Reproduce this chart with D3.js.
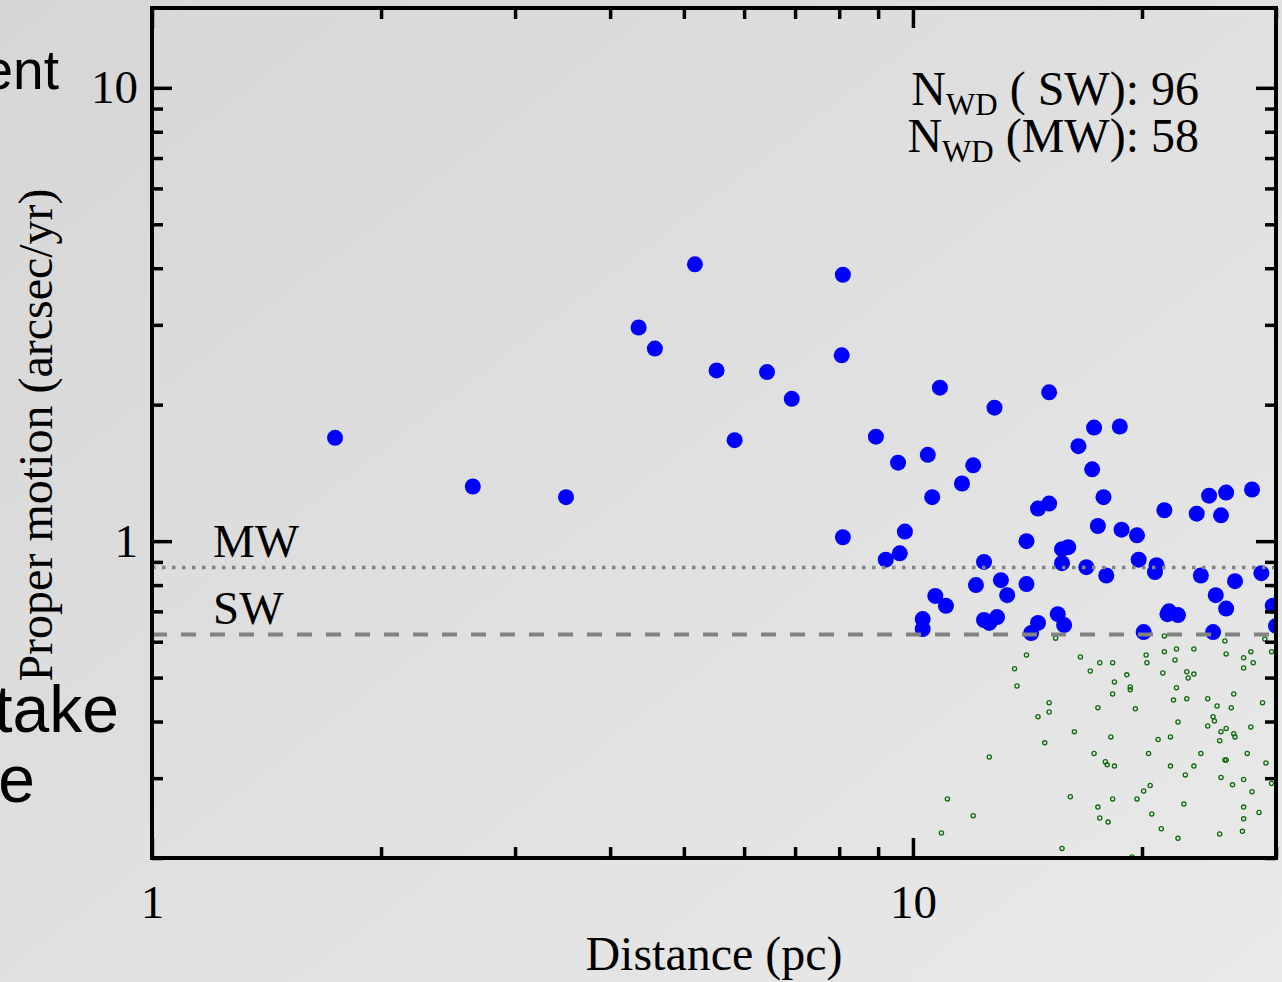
<!DOCTYPE html>
<html>
<head>
<meta charset="utf-8">
<script src="https://cdn.jsdelivr.net/npm/d3@7/dist/d3.min.js"></script>
<style>
  html, body { margin: 0; padding: 0; overflow: hidden; }
  svg { display: block; }
</style>
</head>
<body>
<script>
// ---------------- DATA ----------------
// White dwarfs above the proper-motion limit (blue filled)
const blueDist = [1.74, 2.64, 3.50, 4.36, 4.58, 5.17, 5.52, 5.83, 6.43, 6.93, 8.09, 8.06, 8.09,
  10.85, 15.1, 12.8, 8.94, 10.46, 9.56, 12.0, 11.6, 10.6, 15.1, 14.6, 9.76, 14.1, 9.61, 9.21,
  15.7, 16.0, 12.4, 15.7, 13.05, 12.1, 14.1, 10.7, 13.3, 11.05, 10.3, 10.3, 12.4, 12.6, 12.9,
  14.6, 14.3, 15.5, 15.8,
  17.3, 18.7, 16.5, 17.2, 17.8, 17.5, 18.8, 19.7, 21.4, 23.6, 24.5, 25.8, 25.4, 27.9,
  16.9, 17.95, 19.8, 20.9, 20.8, 23.9, 26.5, 28.7, 25.0, 25.8, 21.7, 21.6, 22.3, 29.7, 30.0, 20.1, 24.8];
const bluePM = [1.69, 1.32, 1.25, 2.96, 2.66, 4.08, 2.38, 1.67, 2.36, 2.06, 3.87, 2.57, 1.02,
  2.18, 2.13, 1.97, 1.70, 1.55, 1.49, 1.47, 1.34, 1.25, 1.21, 1.18, 1.05, 1.00, 0.94, 0.91,
  0.96, 0.97, 0.90, 0.894, 0.82, 0.80, 0.804, 0.757, 0.76, 0.72, 0.673, 0.64, 0.67, 0.66, 0.68,
  0.66, 0.627, 0.69, 0.653,
  1.78, 1.79, 1.62, 1.44, 1.25, 1.08, 1.06, 1.03, 1.17, 1.15, 1.26, 1.28, 1.14, 1.30,
  0.876, 0.84, 0.91, 0.885, 0.855, 0.84, 0.816, 0.85, 0.76, 0.71, 0.70, 0.69, 0.687, 0.72, 0.65, 0.63, 0.63];

// Objects below the limit (green open circles)
const greenDist = [15.4, 14.1, 16.6, 17.6, 13.6, 17.1, 13.7, 15.1, 17.5, 15.1, 14.6, 16.3, 14.9,
  17.3, 12.6, 16.1, 17.5, 17.6, 11.1, 12.0, 10.9, 15.7,
  21.4, 25.7, 29.0, 20.25, 20.3, 21.4, 22.2, 23.4, 22.1, 25.8, 27.2, 27.8, 28.0, 29.6, 27.2,
  18.3, 21.3, 22.9, 23.4, 23.0, 19.1, 18.4, 19.3, 19.3, 22.2, 18.3, 26.4, 22.0, 22.9, 24.4,
  25.1, 28.8, 19.6, 26.2, 24.8, 24.9, 22.3, 24.4, 25.8, 25.4, 26.4, 26.5, 27.8, 18.2, 21.0,
  21.8, 25.3, 17.9, 18.0, 18.4, 20.4, 23.9, 27.5, 21.8, 23.4, 22.8, 25.7, 25.8, 29.1, 25.4,
  26.3, 27.2, 27.9, 29.6, 20.5, 20.1, 19.7, 18.3, 18.05, 20.6, 22.7, 27.2, 28.5, 27.2, 21.2,
  25.3, 27.1, 22.3, 19.4];
const greenPM = [0.611, 0.561, 0.555, 0.539, 0.523, 0.517, 0.479, 0.440, 0.429, 0.420, 0.410, 0.380, 0.359,
  0.340, 0.334, 0.273, 0.259, 0.245, 0.270, 0.248, 0.227, 0.210,
  0.618, 0.602, 0.608, 0.561, 0.539, 0.570, 0.578, 0.578, 0.547, 0.564, 0.553, 0.570, 0.539, 0.570, 0.525,
  0.539, 0.512, 0.515, 0.509, 0.499, 0.507, 0.489, 0.477, 0.470, 0.475, 0.460, 0.460, 0.446, 0.449, 0.449,
  0.433, 0.440, 0.427, 0.429, 0.410, 0.401, 0.399, 0.391, 0.386, 0.380, 0.376, 0.370, 0.389, 0.370, 0.365,
  0.370, 0.363, 0.326, 0.321, 0.319, 0.340, 0.340, 0.340, 0.319, 0.319, 0.305, 0.329, 0.329, 0.324, 0.301,
  0.290, 0.298, 0.280, 0.292, 0.289, 0.281, 0.270, 0.270, 0.240, 0.250, 0.263, 0.259, 0.252, 0.244, 0.232,
  0.226, 0.229, 0.221, 0.201];

const thresholdNames = ["MW", "SW"];
const thresholdValues = [0.875, 0.625];
const countNames = [" ( SW): ", " (MW): "];
const countValues = [96, 58];

const xDomain = [1, 30];
const yDomain = [0.2, 15];
const xMajor = [1, 10];
const xMinor = [2, 3, 4, 5, 6, 7, 8, 9, 20, 30];
const yMajor = [1, 10];
const yMinor = [0.2, 0.3, 0.4, 0.5, 0.6, 0.7, 0.8, 0.9, 2, 3, 4, 5, 6, 7, 8, 9];

const xTitle = "Distance (pc)";
const yTitle = "Proper motion (arcsec/yr)";
const slideFragments = ["ent", "take", "e"];

// ---------------- LAYOUT ----------------
const W = 1282, H = 982;
const L = 152, R = 1276, T = 8, B = 858;
const serif = "'Liberation Serif', 'Times New Roman', serif";
const sans = "'Liberation Sans', Arial, sans-serif";

const svg = d3.select("body").append("svg").attr("width", W).attr("height", H);

const defs = svg.append("defs");
const grad = defs.append("linearGradient").attr("id", "bg")
  .attr("x1", "0").attr("y1", "0").attr("x2", "1").attr("y2", "1");
grad.append("stop").attr("offset", "0%").attr("stop-color", "#d6d6d6");
grad.append("stop").attr("offset", "100%").attr("stop-color", "#e9e9e9");
defs.append("clipPath").attr("id", "plotclip")
  .append("rect").attr("x", L).attr("y", T).attr("width", R - L).attr("height", B - T);

svg.append("rect").attr("width", W).attr("height", H).attr("fill", "url(#bg)");

// slide text fragments behind the figure (cut at the page edge, as in the original)
const fragPos = [[59, 89, 55], [119, 732, 66], [35, 802, 66]];
svg.selectAll("text.frag").data(slideFragments).join("text")
  .attr("class", "frag")
  .attr("x", (d, i) => fragPos[i][0]).attr("y", (d, i) => fragPos[i][1])
  .attr("text-anchor", "end")
  .attr("font-family", sans).attr("font-size", (d, i) => fragPos[i][2])
  .attr("fill", "#000").text(d => d);

const x = d3.scaleLog().domain(xDomain).range([L, R]);
const y = d3.scaleLog().domain(yDomain).range([B, T]);

const plot = svg.append("g").attr("clip-path", "url(#plotclip)");

// green open circles
const greenData = greenDist.map((d, i) => ({ d, pm: greenPM[i] }));
plot.selectAll("circle.g").data(greenData).join("circle")
  .attr("class", "g")
  .attr("cx", p => x(p.d)).attr("cy", p => y(p.pm)).attr("r", 2.1)
  .attr("fill", "none").attr("stroke", "#0b6b0b").attr("stroke-width", 1.3);

// blue filled dots
const blueData = blueDist.map((d, i) => ({ d, pm: bluePM[i] }));
plot.selectAll("circle.b").data(blueData).join("circle")
  .attr("class", "b")
  .attr("cx", p => x(p.d)).attr("cy", p => y(p.pm)).attr("r", 8)
  .attr("fill", "#0000ff");

// threshold lines
const dashes = ["3.5,6.5", "15,14"];
const widths = [3.5, 4];
plot.selectAll("line.thr").data(thresholdValues).join("line")
  .attr("class", "thr")
  .attr("x1", L).attr("x2", R)
  .attr("y1", v => Math.round(y(v)) + 0.5).attr("y2", v => Math.round(y(v)) + 0.5)
  .attr("stroke", "#828282")
  .attr("stroke-width", (v, i) => widths[i])
  .attr("stroke-dasharray", (v, i) => dashes[i]);

svg.selectAll("text.thrlab").data(thresholdNames).join("text")
  .attr("class", "thrlab")
  .attr("x", 213).attr("y", (n, i) => y(thresholdValues[i]) - 10)
  .attr("font-family", serif).attr("font-size", 47).attr("fill", "#000")
  .text(n => n);

// count annotations
const cnt = svg.selectAll("text.cnt").data(countValues).join("text")
  .attr("class", "cnt")
  .attr("x", 1199).attr("y", (v, i) => 105 + i * 47)
  .attr("text-anchor", "end")
  .attr("font-family", serif).attr("font-size", 48).attr("fill", "#000");
cnt.append("tspan").text("N");
cnt.append("tspan").attr("font-size", 31).attr("dy", 10).text("WD");
cnt.append("tspan").attr("dy", -10).text((v, i) => countNames[i] + v);

// axes (ticks inward on all four sides)
function styleAxis(g) {
  g.select(".domain").remove();
  g.selectAll(".tick line").attr("stroke", "#000").attr("stroke-width", 3.5);
  g.selectAll(".tick text").attr("font-family", serif).attr("font-size", 47).attr("fill", "#000");
}
const fmt = d => d3.format("d")(d);

svg.append("g").attr("transform", `translate(0,${B})`)
  .call(d3.axisBottom(x).tickValues(xMajor).tickSize(-20).tickPadding(27).tickFormat(fmt))
  .call(styleAxis);
svg.append("g").attr("transform", `translate(0,${B})`)
  .call(d3.axisBottom(x).tickValues(xMinor).tickSize(-11).tickFormat(""))
  .call(styleAxis);
svg.append("g").attr("transform", `translate(0,${T})`)
  .call(d3.axisTop(x).tickValues(xMajor).tickSize(-20).tickFormat(""))
  .call(styleAxis);
svg.append("g").attr("transform", `translate(0,${T})`)
  .call(d3.axisTop(x).tickValues(xMinor).tickSize(-11).tickFormat(""))
  .call(styleAxis);

svg.append("g").attr("transform", `translate(${L},0)`)
  .call(d3.axisLeft(y).tickValues(yMajor).tickSize(-20).tickPadding(14).tickFormat(fmt))
  .call(styleAxis);
svg.append("g").attr("transform", `translate(${L},0)`)
  .call(d3.axisLeft(y).tickValues(yMinor).tickSize(-11).tickFormat(""))
  .call(styleAxis);
svg.append("g").attr("transform", `translate(${R},0)`)
  .call(d3.axisRight(y).tickValues(yMajor).tickSize(-20).tickFormat(""))
  .call(styleAxis);
svg.append("g").attr("transform", `translate(${R},0)`)
  .call(d3.axisRight(y).tickValues(yMinor).tickSize(-11).tickFormat(""))
  .call(styleAxis);

// frame
svg.append("rect").attr("x", L).attr("y", T).attr("width", R - L).attr("height", B - T)
  .attr("fill", "none").attr("stroke", "#000").attr("stroke-width", 4);

// axis titles
svg.append("text").attr("x", 714).attr("y", 970)
  .attr("text-anchor", "middle").attr("font-family", serif).attr("font-size", 48)
  .attr("fill", "#000").text(xTitle);
svg.append("text").attr("transform", "translate(52,435) rotate(-90)")
  .attr("text-anchor", "middle").attr("font-family", serif).attr("font-size", 48)
  .attr("fill", "#000").text(yTitle);
</script>
</body>
</html>
